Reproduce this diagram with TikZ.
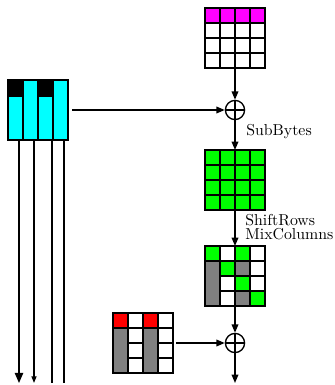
\documentclass[tikz,border=0pt]{standalone}
\usepackage{tikz}
\usetikzlibrary{%
	calc,%
	arrows.meta,%
	positioning,%
}
\tikzset{
	>={Triangle[length=5pt,width=4pt]},%
	block/.style={%
			minimum width=36pt,%
			minimum height=36pt,%
			inner sep=0,%
			outer sep=0},%
	cellbox/.style={%
			draw,%
			thick},%
	xorgate/.style={%
			draw,%
			thick,%
			circle,%
			minimum size=11.5pt,%
			inner sep=0,%
			path picture={%
					\draw[thick] (path picture bounding box.north) -- (path picture bounding box.south)
					(path picture bounding box.west) -- (path picture bounding box.east);}},%
	flow/.style={%
			->,%
			thick},%
	lane/.style={%
			thick},%
	lbl/.style={%
			font={\fontsize{9.5}{11}\selectfont},%
			inner sep=0,%
			anchor=base west},%
}
\definecolor{cgreen}{RGB}{0, 255, 0}
\definecolor{cgray}{RGB}{128, 128, 128}
\definecolor{ccyan}{RGB}{0, 255, 255}
\definecolor{cmagenta}{RGB}{255, 0, 255}
\definecolor{cred}{RGB}{255, 0, 0}
% one 4x4 state, every cell with the same fill
\newcommand{\gridcells}[2]{%
	\foreach \r in {0,...,3}
	\foreach \c in {0,...,3}
	\draw[cellbox, fill=#2] ($(#1.north west)+(\c*15,-\r*15)$) rectangle ++(15,-15);%
}
% single cells: row/col/colour
\newcommand{\fillcells}[2]{%
	\foreach \r/\c/\col in {#2}
	\draw[cellbox, fill=\col] ($(#1.north west)+(\c*15,-\r*15)$) rectangle ++(15,-15);%
}
% lower three cells of a column as one
\newcommand{\fillcol}[2]{%
	\draw[cellbox, fill=cgray] ($(#1.north west)+(#2*15,-15)$) rectangle ++(15,-45);%
}

\begin{document}
\begin{tikzpicture}[x=0.6pt, y=0.6pt]%
	\useasboundingbox (0,0) rectangle (335,385);

	\node[block] (key) at (235,347) {};
	\node[xorgate] (x1) at (235,275) {};
	\node[block] (sub) at (235,205) {};
	\node[block] (mix) at (235,109) {};
	\node[xorgate] (x2) at (235,42) {};
	\node[block] (rk) at (143,42) {};
	\node[block] (lanes) at (38,275) {};
	\coordinate (out) at (235,2);

	\gridcells{key}{white}
	\fillcells{key}{0/0/cmagenta, 0/1/cmagenta, 0/2/cmagenta, 0/3/cmagenta}

	\gridcells{sub}{cgreen}

	\gridcells{mix}{white}
	\fillcells{mix}{0/0/cgreen, 0/2/cgreen, 1/1/cgreen, 2/2/cgreen, 3/3/cgreen, 1/2/cgray, 3/2/cgray}
	\fillcol{mix}{0}

	\gridcells{rk}{white}
	\fillcells{rk}{0/0/cred, 0/2/cred}
	\fillcol{rk}{0}
	\fillcol{rk}{2}

	\foreach \i in {0,...,3}
	\draw[cellbox, fill=ccyan] ($(lanes.south west)+(\i*15,0)$) rectangle ++(15,60);
	\foreach \i in {0,2}
	\draw[cellbox, fill=black] ($(lanes.north west)+(\i*15,0)$) rectangle ++(15,-16);

	\node[lbl] (sb) at (246,249) {SubBytes};
	\node[lbl] (sr) at (245,159) {ShiftRows};
	\node[lbl] (mc) at (245,145) {MixColumns};

	\draw[flow] (key) -- (x1);
	\draw[flow, shorten <=2.5pt] (lanes) -- (x1);
	\draw[flow] (x1) -- (sub);
	\draw[flow] (sub) -- (mix);
	\draw[flow] (mix) -- (x2);
	\draw[flow, shorten <=2pt] (rk) -- (x2);
	\draw[flow] (x2) -- (out);

	\coordinate (l1) at (19,2);
	\coordinate (l2) at (34,2);
	\coordinate (l3) at (52,2);
	\coordinate (l4) at (64,2);
	\draw[lane, -{Triangle[length=6pt,width=5pt]}] (lanes.south -| l1) -- (l1);
	\draw[lane, -{Triangle[length=4pt,width=3pt]}] (lanes.south -| l2) -- (l2);
	\draw[lane] (lanes.south -| l3) -- (l3);
	\draw[lane] (lanes.south -| l4) -- (l4);
\end{tikzpicture}
\end{document}
